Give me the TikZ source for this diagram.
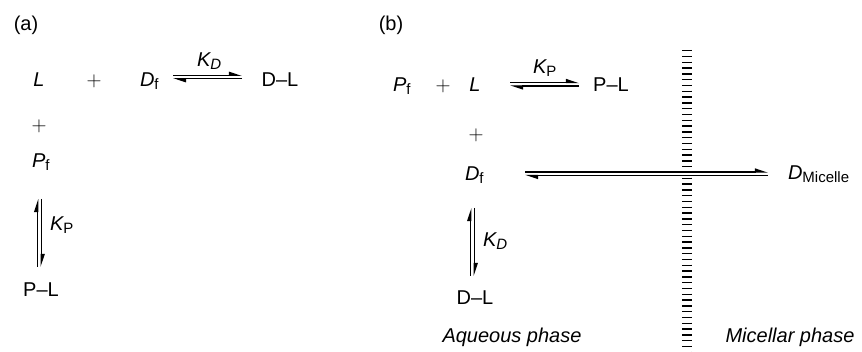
\documentclass[tikz,border=0pt]{standalone}
\usepackage{fontspec}
\setmainfont{Liberation Sans}
\usetikzlibrary{arrows.meta}
\newcommand{\lowsub}[1]{\raisebox{-3pt}{\fontsize{15}{15}\selectfont #1}}
\begin{document}
\begin{tikzpicture}[x=1pt,y=-1pt,
  every node/.style={inner sep=0pt,outer sep=0pt,font=\fontsize{20}{24}\selectfont},
  lbl/.style={anchor=base},
  lblw/.style={anchor=base west},
  plusn/.style={anchor=center,font=\fontsize{20}{24}\selectfont},
  harp/.style={line width=1.3pt,-{Stealth[left,length=11pt,width=7pt,inset=0pt]}},
  ladder/.style={line width=10pt,dash pattern=on 1.5pt off 4.3pt}]
\useasboundingbox (0,0) rectangle (862,352);
% ---------- (a) ----------
\node[anchor=center] (la) at (26,25) {(a)};
\node[lbl] (La) at (39,87) {\itshape L};
\node[plusn] (pa1) at (94,81) {$+$};
\node[lblw] (Dfa) at (140,87) {{\itshape D}\lowsub{f}};
\node[lbl] (DLa) at (280,87) {D--L};
\node[lblw] (KDa) at (197,67) {{\itshape K}\lowsub{\itshape D}};
\node[plusn] (pa2) at (39,126) {$+$};
\node[lblw] (Pfa) at (32,168) {{\itshape P}\lowsub{f}};
\node[lblw] (KPa) at (50,231) {{\itshape K}\lowsub{P}};
\node[lbl] (PLa) at (41,297) {P--L};
\coordinate (ah1s) at (173,75.3); \coordinate (ah1e) at (242,75.3);
\coordinate (ah2s) at (242,78.8); \coordinate (ah2e) at (173,78.8);
\draw[harp] (ah1s) -- (ah1e);
\draw[harp] (ah2s) -- (ah2e);
\coordinate (av1s) at (37.6,267); \coordinate (av1e) at (37.6,199);
\coordinate (av2s) at (41.2,199); \coordinate (av2e) at (41.2,267);
\draw[harp] (av1s) -- (av1e);
\draw[harp] (av2s) -- (av2e);
% ---------- (b) ----------
\node[anchor=center] (lb) at (391,25) {(b)};
\node[lblw] (Pfb) at (393,92) {{\itshape P}\lowsub{f}};
\node[plusn] (pb1) at (443,86) {$+$};
\node[lbl] (Lb) at (475,92) {\itshape L};
\node[lblw] (KPb) at (533,74) {{\itshape K}\lowsub{P}};
\node[lbl] (PLb) at (611,92) {P--L};
\node[plusn] (pb2) at (476,135) {$+$};
\node[lblw] (Dfb) at (465,181) {{\itshape D}\lowsub{f}};
\node[lblw] (DMb) at (788,180) {{\itshape D}\lowsub{Micelle}};
\node[lblw] (KDb) at (483,247) {{\itshape K}\lowsub{\itshape D}};
\node[lbl] (DLb) at (475,305) {D--L};
\node[lbl] (aq) at (512,343) {\itshape Aqueous phase};
\node[lbl] (mi) at (790,343) {\itshape Micellar phase};
\coordinate (bh1s) at (510,82.5); \coordinate (bh1e) at (579,82.5);
\coordinate (bh2s) at (579,86); \coordinate (bh2e) at (510,86);
\draw[harp] (bh1s) -- (bh1e);
\draw[harp] (bh2s) -- (bh2e);
\coordinate (bm1s) at (525,172); \coordinate (bm1e) at (768,172);
\coordinate (bm2s) at (768,175.5); \coordinate (bm2e) at (525,175.5);
\draw[ladder] (687,50) -- (687,352);
\draw[harp] (bm1s) -- (bm1e);
\draw[harp] (bm2s) -- (bm2e);
\coordinate (bv1s) at (470.7,276); \coordinate (bv1e) at (470.7,208);
\coordinate (bv2s) at (474.3,208); \coordinate (bv2e) at (474.3,276);
\draw[harp] (bv1s) -- (bv1e);
\draw[harp] (bv2s) -- (bv2e);
\end{tikzpicture}
\end{document}
